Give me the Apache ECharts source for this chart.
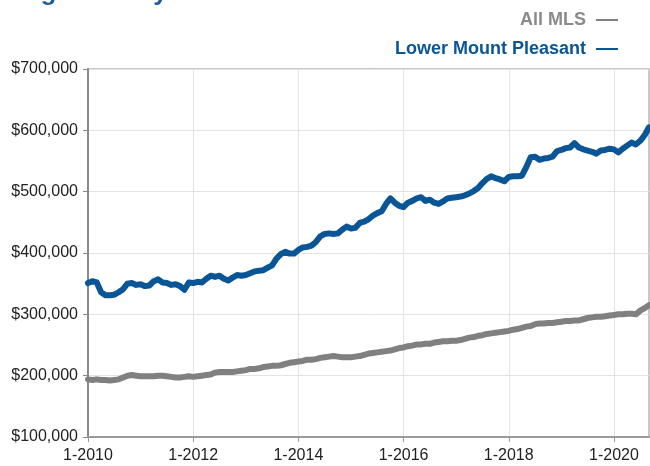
<!DOCTYPE html>
<html>
<head>
<meta charset="utf-8">
<script src="https://cdn.jsdelivr.net/npm/echarts@6/dist/echarts.min.js"></script>
<style>
html,body{margin:0;padding:0;background:#fff;}
#c{width:650px;height:466px;}
</style>
</head>
<body>
<div id="c"></div>
<script>
const titleText = 'Single Family Detached';
const seriesNames = ['All MLS', 'Lower Mount Pleasant'];
const startYear = 2010;
const monthCount = 129; // Jan 2010 .. Sep 2020
const yTicks = [100000, 200000, 300000, 400000, 500000, 600000, 700000];

const allMLS = [
194,193,194,193,193,192,193,194,197,200,201,200,
199,199,199,199,200,200,199,198,197,197,198,199,
198,199,200,201,202,205,206,206,206,206,207,208,
209,211,211,212,214,215,216,216,217,219,221,222,
223,224,226,226,227,229,230,231,232,231,230,230,
230,231,232,234,236,237,238,239,240,241,243,245,
246,248,249,251,251,252,252,254,255,256,256,257,
257,258,260,262,263,265,266,268,269,270,271,272,
273,275,276,278,280,281,284,285,285,286,286,287,
288,289,289,290,290,292,294,295,296,296,297,298,
299,300,300,301,301,300,306,310,315
].map(v => v * 1000);

const lowerMountPleasant = [
351,354,352,336,331,331,332,336,341,350,351,348,
349,346,347,354,357,352,351,348,349,346,340,352,
351,353,352,358,363,361,363,358,355,360,364,363,
364,367,370,371,372,376,380,391,398,402,399,399,
405,409,410,412,418,427,431,432,431,432,438,443,
440,441,449,451,455,461,465,468,480,489,482,477,
475,482,485,489,491,485,487,482,480,484,489,490,
491,492,494,497,501,506,514,521,525,522,520,517,
524,525,525,526,540,556,557,552,554,555,557,566,
568,571,572,579,572,569,567,565,562,567,568,570,
569,564,570,575,580,577,583,592,605
].map(v => v * 1000);

const categories = [];
for (let i = 0; i < monthCount; i++) {
  const m = (i % 12) + 1;
  const y = startYear + Math.floor(i / 12);
  categories.push(m + '-' + y);
}

const chart = echarts.init(document.getElementById('c'), null, {renderer: 'canvas'});
const legendFont = '"Liberation Sans Narrow", "Arial Narrow", "Liberation Sans", sans-serif';
const labelFont = '"Liberation Sans", Arial, sans-serif';
chart.setOption({
  animation: false,
  backgroundColor: '#fff',
  graphic: [{
    type: 'text',
    left: 0,
    top: -20,
    style: {
      text: titleText,
      fill: '#1f5c9c',
      font: 'bold 26px "Liberation Sans", Arial, sans-serif'
    }
  }],
  legend: {
    orient: 'vertical',
    right: 27,
    top: 6,
    align: 'right',
    itemGap: 11,
    itemWidth: 22,
    itemHeight: 2,
    icon: 'rect',
    data: [
      {name: seriesNames[0], textStyle: {color: '#8a8a8a'}},
      {name: seriesNames[1], textStyle: {color: '#0a5596'}}
    ],
    textStyle: {
      fontFamily: legendFont,
      fontWeight: 'bold',
      fontSize: 18,
      padding: [0, 5, 0, 0]
    },
    selectedMode: false
  },
  grid: {
    left: 88, right: 1, top: 69, bottom: 29,
    show: true,
    borderColor: '#c8c8c8',
    borderWidth: 2,
    containLabel: false
  },
  xAxis: {
    type: 'category',
    data: categories,
    boundaryGap: false,
    axisLine: {lineStyle: {color: '#9a9a9a', width: 2}},
    axisTick: {show: true, interval: 23, length: 5, lineStyle: {color: '#9a9a9a'}},
    axisLabel: {
      interval: 23,
      color: '#222',
      fontSize: 16,
      fontFamily: labelFont,
      margin: 11,
      hideOverlap: false
    },
    splitLine: {show: true, interval: 23, lineStyle: {color: '#e3e3e3', width: 1}}
  },
  yAxis: {
    type: 'value',
    min: yTicks[0],
    max: yTicks[yTicks.length - 1],
    interval: 100000,
    axisLine: {show: true, lineStyle: {color: '#8a8a8a', width: 2}},
    axisTick: {show: true, length: 5, lineStyle: {color: '#8a8a8a'}},
    axisLabel: {
      color: '#222',
      fontSize: 16,
      fontFamily: labelFont,
      margin: 10,
      formatter: v => '$' + v.toLocaleString('en-US')
    },
    splitLine: {show: true, lineStyle: {color: '#e3e3e3', width: 1}}
  },
  series: [
    {
      name: seriesNames[0],
      type: 'line',
      data: allMLS,
      showSymbol: false,
      symbol: 'none',
      color: '#808080',
      lineStyle: {width: 6, color: '#808080', join: 'round', cap: 'round'}
    },
    {
      name: seriesNames[1],
      type: 'line',
      data: lowerMountPleasant,
      showSymbol: false,
      symbol: 'none',
      color: '#0a5596',
      lineStyle: {width: 6, color: '#0a5596', join: 'round', cap: 'round'}
    }
  ]
});
</script>
</body>
</html>
